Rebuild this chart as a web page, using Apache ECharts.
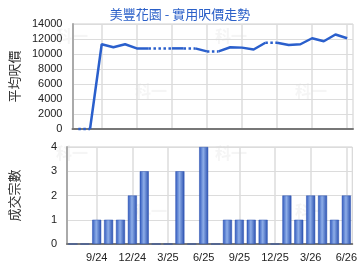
<!DOCTYPE html>
<html>
<head>
<meta charset="utf-8">
<script src="https://cdn.jsdelivr.net/npm/echarts@6/dist/echarts.min.js"></script>
<style>html,body{margin:0;padding:0;background:#fff}#c{width:360px;height:270px}</style>
</head>
<body>
<div id="c"></div>
<script>
var months = ['7/24','8/24','9/24','10/24','11/24','12/24','1/25','2/25','3/25','4/25','5/25','6/25','7/25','8/25','9/25','10/25','11/25','12/25','1/26','2/26','3/26','4/26','5/26','6/26'];
var avgPrice = [0,0,11300,10900,11300,10750,10750,10750,10750,10750,10750,10350,10350,10900,10850,10600,11500,11500,11200,11300,12100,11700,12600,12100];
var dealCount = [0,0,1,1,1,2,3,0,0,3,0,4,0,1,1,1,1,0,2,1,2,2,1,2];
var titleText = '美豐花園 - 實用呎價走勢';
var priceAxisName = '平均呎價';
var countAxisName = '成交宗數';
var watermark = '科一';

var lineColor = '#2a5fcc';
var fontFam = '"Liberation Sans", Arial, sans-serif';
var cjkFam = '"Noto Sans CJK TC", "Noto Sans CJK SC", sans-serif';

// split the line into runs: a segment is dotted when it ends at a month without deals
function buildRuns() {
  var runs = [];
  var cur = null;
  for (var i = 0; i < months.length - 1; i++) {
    var dotted = dealCount[i + 1] === 0;
    if (!cur || cur.dotted !== dotted) {
      cur = {dotted: dotted, start: i, end: i + 1};
      runs.push(cur);
    } else {
      cur.end = i + 1;
    }
  }
  return runs.map(function (r) {
    var d = avgPrice.map(function (v, idx) { return (idx >= r.start && idx <= r.end) ? v : null; });
    return {
      type: 'line', xAxisIndex: 0, yAxisIndex: 0, data: d, clip: false,
      showSymbol: false, symbol: 'none', connectNulls: false, silent: true,
      lineStyle: {color: lineColor, width: 2.5, type: r.dotted ? [2.5, 2.5] : 'solid'},
      z: r.dotted ? 5 : 6
    };
  });
}

var showIdx = function (i) { return (i - 2) % 3 === 0; };

var catAxisBase = {
  type: 'category', data: months, boundaryGap: true,
  axisTick: {show: false},
  axisLine: {show: true, lineStyle: {color: '#777', width: 2}},
  splitLine: {show: true, alignWithLabel: true, interval: function (i) { return showIdx(i); }, lineStyle: {color: '#dcdcdc', width: 1.5}}
};

var wm = [];
[[72,37],[151,92],[231,37],[311,92],[72,154],[151,212],[231,154],[311,212]].forEach(function (p) {
  wm.push({type: 'text', left: p[0] - 16, top: p[1] - 9, z: -1,
    style: {text: watermark, fill: '#f5f5f5', font: 'bold 16px ' + cjkFam}});
});

var plainNum = function (v) { return String(v); };

var option = {
  animation: false,
  backgroundColor: '#fff',
  title: {text: titleText, left: 'center', top: 3,
    textStyle: {color: '#2a5fc8', fontSize: 13, fontWeight: 'normal', fontFamily: cjkFam}},
  graphic: wm,
  grid: [
    {left: 66, top: 24, width: 287, height: 105, show: true, borderColor: '#cfcfcf', borderWidth: 1},
    {left: 66, top: 147, width: 287, height: 97, show: true, borderColor: '#cfcfcf', borderWidth: 1}
  ],
  xAxis: [
    Object.assign({}, catAxisBase, {gridIndex: 0, axisLabel: {show: false}}),
    Object.assign({}, catAxisBase, {gridIndex: 1,
      axisLabel: {show: true, interval: function (i) { return showIdx(i); }, color: '#222', fontSize: 11, fontFamily: fontFam, margin: 8}})
  ],
  yAxis: [
    {type: 'value', gridIndex: 0, min: 0, max: 14000, interval: 2000,
      name: priceAxisName, nameLocation: 'middle', nameRotate: 90, nameGap: 46,
      nameTextStyle: {color: '#333', fontSize: 13, fontFamily: cjkFam},
      axisLine: {show: true, lineStyle: {color: '#aaa', width: 2}}, axisTick: {show: false},
      axisLabel: {color: '#222', fontSize: 11, fontFamily: fontFam, margin: 10, formatter: plainNum},
      splitLine: {lineStyle: {color: '#dcdcdc', width: 1}}},
    {type: 'value', gridIndex: 1, min: 0, max: 4, interval: 1,
      name: countAxisName, nameLocation: 'middle', nameRotate: 90, nameGap: 46,
      nameTextStyle: {color: '#333', fontSize: 13, fontFamily: cjkFam},
      axisLine: {show: true, lineStyle: {color: '#aaa', width: 2}}, axisTick: {show: false},
      axisLabel: {color: '#222', fontSize: 11, fontFamily: fontFam, margin: 10, formatter: plainNum},
      splitLine: {lineStyle: {color: '#dcdcdc', width: 1}}}
  ],
  series: buildRuns().concat([
    {type: 'bar', xAxisIndex: 1, yAxisIndex: 1, data: dealCount, barWidth: 9, silent: true,
      itemStyle: {
        color: new echarts.graphic.LinearGradient(0, 0, 1, 0, [
          {offset: 0, color: '#2f58bd'},
          {offset: 0.45, color: '#8eaee8'},
          {offset: 1, color: '#2a50b0'}
        ]),
        borderColor: '#2a50b0', borderWidth: 0.5
      }}
  ])
};

var chart = echarts.init(document.getElementById('c'), null, {renderer: 'canvas'});
chart.setOption(option);
</script>
</body>
</html>
